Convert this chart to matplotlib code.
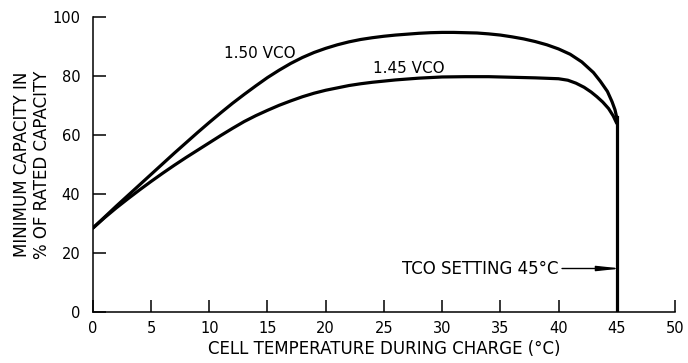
import matplotlib.pyplot as plt

# capacity curves (temperature in deg C, capacity in %)
temp_150 = [0, 1, 2, 3, 4, 5, 6, 7, 8, 9, 10, 11, 12, 13, 14, 15, 16, 17, 18,
            19, 20, 21, 22, 23, 24, 25, 26, 27, 28, 29, 30, 31, 32, 33, 34,
            35, 36, 37, 38, 39, 40, 41, 42, 43, 43.6, 44.2, 44.6, 44.85, 45]
cap_150 = [28.5, 32.2, 35.9, 39.5, 43.1, 46.7, 50.3, 53.9, 57.4, 60.9, 64.3,
           67.6, 70.8, 73.8, 76.7, 79.5, 82.0, 84.3, 86.3, 88.0, 89.4, 90.6,
           91.6, 92.4, 93.0, 93.5, 93.9, 94.2, 94.5, 94.7, 94.8, 94.8, 94.7,
           94.6, 94.3, 93.9, 93.3, 92.6, 91.7, 90.6, 89.2, 87.4, 84.8, 81.2,
           78.2, 74.8, 71.3, 68.6, 66.0]

temp_145 = [0, 1, 2, 3, 4, 5, 6, 7, 8, 9, 10, 11, 12, 13, 14, 15, 16, 17, 18,
            19, 20, 21, 22, 23, 24, 25, 26, 27, 28, 29, 30, 32, 34, 36, 38,
            40, 40.8, 41.5, 42.2, 42.8, 43.3, 43.8, 44.3, 44.7, 45]
cap_145 = [28.5, 32.0, 35.3, 38.4, 41.4, 44.3, 47.1, 49.8, 52.4, 54.9, 57.4,
           59.9, 62.3, 64.6, 66.6, 68.4, 70.1, 71.6, 73.0, 74.2, 75.2, 76.0,
           76.8, 77.4, 77.9, 78.3, 78.7, 79.0, 79.3, 79.5, 79.7, 79.8, 79.8,
           79.6, 79.4, 79.1, 78.6, 77.6, 76.2, 74.6, 73.0, 71.2, 69.0, 66.5,
           64.0]

# cut-off drop at the TCO setting
tco_temp = 45
tco_cap_top = 66.0
tco_label_cap = 14.8

x_ticks = [0, 5, 10, 15, 20, 25, 30, 35, 40, 45, 50]
y_ticks = [0, 20, 40, 60, 80, 100]

plt.rcParams['font.family'] = 'DejaVu Sans'
fig = plt.figure(figsize=(6.88, 3.63), dpi=100)
ax = fig.add_axes([0.135, 0.14, 0.846, 0.813])

lw = 2.3
ax.plot(temp_150, cap_150, color='black', lw=lw, solid_joinstyle='round',
        solid_capstyle='round')
ax.plot(temp_145, cap_145, color='black', lw=lw, solid_joinstyle='round',
        solid_capstyle='round')
ax.plot([tco_temp, tco_temp], [0, tco_cap_top], color='black', lw=lw)

ax.text(11.3, 87.7, '1.50 VCO', fontsize=11, va='center', ha='left')
ax.text(24.1, 82.6, '1.45 VCO', fontsize=11, va='center', ha='left')

# arrow tip runs into the cut-off line
ax.annotate('', xy=(tco_temp + 0.4, tco_label_cap), xytext=(40.3, tco_label_cap),
            arrowprops=dict(arrowstyle='-|>,head_length=1.4,head_width=0.15',
                            color='black', lw=1.0, mutation_scale=10,
                            shrinkA=0, shrinkB=0))
ax.text(40.0, tco_label_cap, 'TCO SETTING 45\u00b0C', fontsize=12,
        va='center', ha='right')

ax.set_xlim(0, 50)
ax.set_ylim(0, 100)
ax.set_xticks(x_ticks)
ax.set_yticks(y_ticks)
ax.spines['top'].set_visible(False)
ax.spines['right'].set_visible(False)
for s in ['left', 'bottom']:
    ax.spines[s].set_linewidth(1.1)
ax.tick_params(axis='both', direction='in', length=9, width=1.1,
               labelsize=10.5)
ax.tick_params(axis='y', pad=9)
ax.tick_params(axis='x', pad=6)

ax.set_xlabel('CELL TEMPERATURE DURING CHARGE (\u00b0C)', fontsize=12,
              labelpad=3)
ax.set_ylabel('MINIMUM CAPACITY IN\n% OF RATED CAPACITY', fontsize=12,
              labelpad=1, linespacing=1.15)

fig.savefig('out.png', dpi=100)
